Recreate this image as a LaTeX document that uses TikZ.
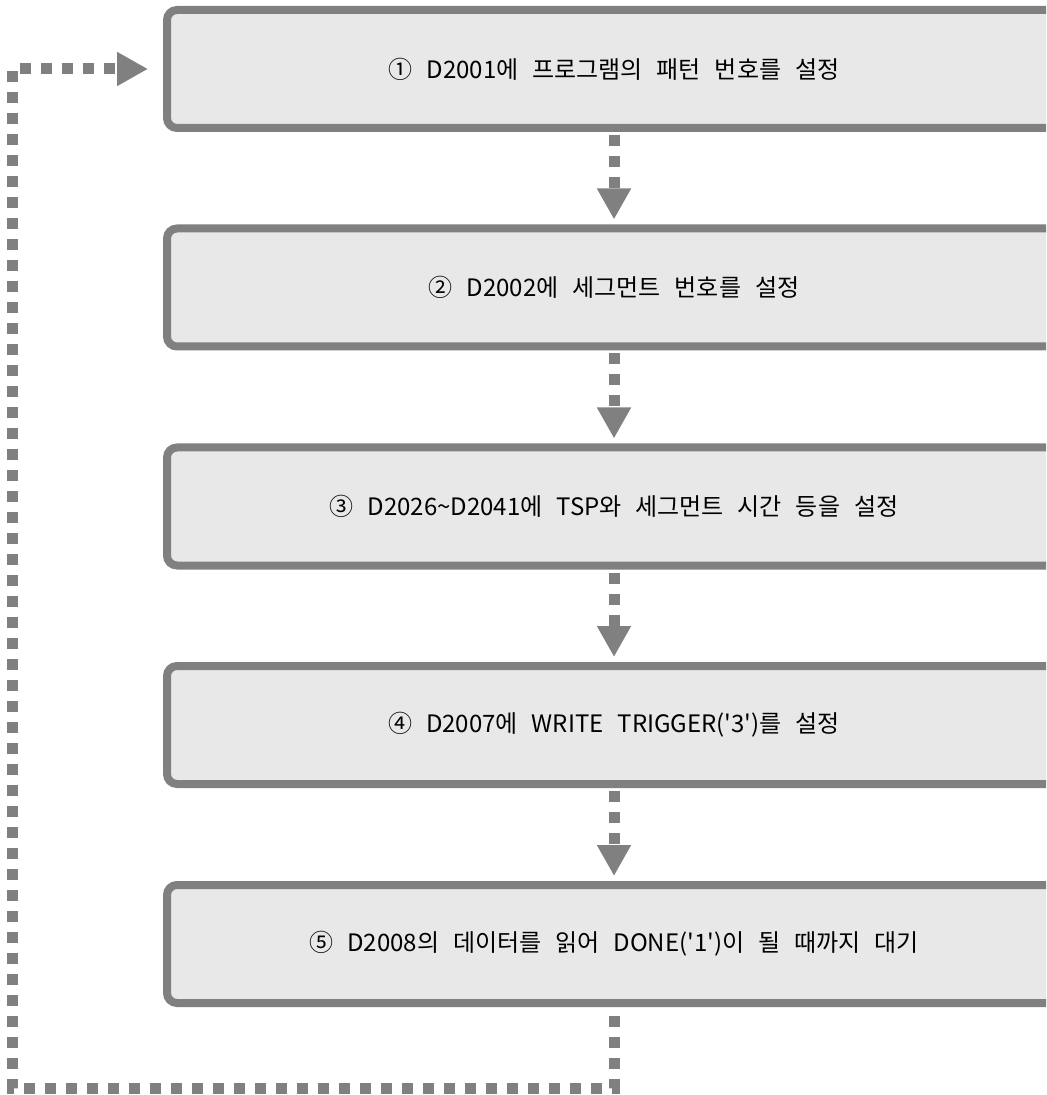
\documentclass[tikz,border=0pt]{standalone}
\usepackage{fontspec}
\newfontfamily\stepfont{Noto Sans CJK KR}[WordSpace=2.6]
\usetikzlibrary{arrows.meta}

\definecolor{stepgray}{gray}{0.5}
\definecolor{stepfill}{gray}{0.91}

\tikzset{
  stepbox/.style={draw=stepgray, fill=stepfill, line width=4pt, rounded corners=5pt,
    minimum width=447pt, minimum height=59pt, inner sep=0pt,
    font=\stepfont\fontsize{12}{14}\selectfont},
  flow/.style={draw=stepgray, line width=5.5pt, dash pattern=on 5.5pt off 5pt,
    -{Triangle[length=15.5pt,width=16pt]}}
}

\begin{document}
\begin{tikzpicture}[x=0.5pt,y=-0.5pt]
\useasboundingbox (0,0) rectangle (1046,1095);
\clip (0,0) rectangle (1046,1095);

    \node[stepbox] (pattern) at (614,69) {① D2001에 프로그램의 패턴 번호를 설정};
    \node[stepbox] (segment) at (614,287.5) {② D2002에 세그먼트 번호를 설정};
    \node[stepbox] (timing) at (614,506.5) {③ D2026\textasciitilde D2041에 TSP와 세그먼트 시간 등을 설정};
    \node[stepbox] (trigger) at (614,725) {④ D2007에 WRITE TRIGGER('3')를 설정};
    \node[stepbox] (done) at (614,944) {⑤ D2008의 데이터를 읽어 DONE('1')이 될 때까지 대기};

    \coordinate (back) at (12,1088);

  \draw [flow, dash phase=9pt, shorten >=2.5pt] (pattern) -- (segment);
  \draw [flow, dash phase=9pt, shorten >=2.5pt] (segment) -- (timing);
  \draw [flow, dash phase=9pt, shorten >=2.5pt] (timing) -- (trigger);
  \draw [flow, dash phase=9pt, shorten >=2.5pt] (trigger) -- (done);
  \draw [flow, dash phase=6pt, shorten >=7.5pt] (done) |- (back) |- (pattern.west);

\end{tikzpicture}
\end{document}
